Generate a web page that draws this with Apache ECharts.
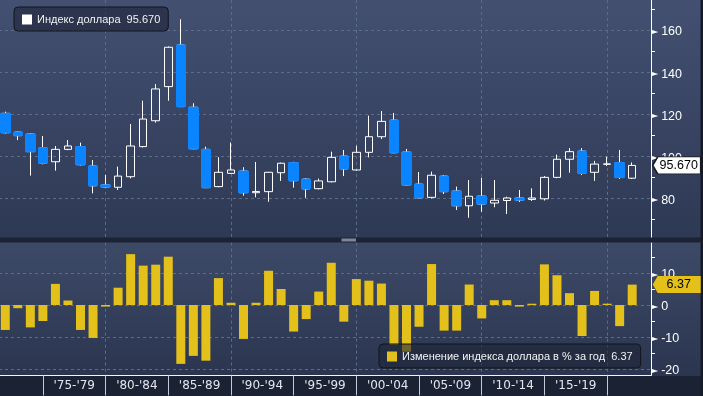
<!DOCTYPE html>
<html>
<head>
<meta charset="utf-8">
<title>Индекс доллара</title>
<style>
  html, body { margin: 0; padding: 0; background: #141a27; }
  #chart { width: 703px; height: 396px; }
</style>
</head>
<body>
<div id="chart"></div>
<script src="https://cdn.jsdelivr.net/npm/echarts@6/dist/echarts.min.js"></script>
<script>
// годовые свечи индекса доллара, 1971-2021
var years = [1971, 1972, 1973, 1974, 1975, 1976, 1977, 1978, 1979, 1980,
             1981, 1982, 1983, 1984, 1985, 1986, 1987, 1988, 1989, 1990,
             1991, 1992, 1993, 1994, 1995, 1996, 1997, 1998, 1999, 2000,
             2001, 2002, 2003, 2004, 2005, 2006, 2007, 2008, 2009, 2010,
             2011, 2012, 2013, 2014, 2015, 2016, 2017, 2018, 2019, 2020, 2021];

var open  = [120.4, 111.5, 110.6, 104.1, 97.4, 103.3, 104.6, 95.4, 86.4, 85.3,
             90.3, 104.6, 116.9, 133.1, 152.9, 123.3, 103.3, 85.6, 91.9, 93.0,
             82.7, 83.2, 92.2, 97.0, 89.2, 84.6, 87.9, 100.1, 93.5, 101.9,
             109.3, 117.2, 102.0, 86.8, 80.5, 90.6, 83.5, 76.5, 81.1, 77.8,
             79.0, 80.2, 79.5, 79.8, 90.0, 98.6, 102.5, 92.4, 96.2, 97.0, 89.6];
var high  = [121.2, 111.8, 111.0, 109.6, 104.9, 107.7, 106.5, 98.2, 91.1, 95.1,
             115.3, 126.4, 134.3, 152.2, 165.1, 125.2, 104.6, 99.6, 106.6, 94.8,
             97.3, 92.6, 97.0, 97.4, 89.7, 89.4, 102.2, 103.0, 105.0, 119.3,
             121.5, 120.6, 103.5, 92.5, 92.7, 91.1, 85.6, 88.7, 89.8, 88.7,
             80.8, 84.0, 84.8, 90.6, 100.8, 103.9, 103.9, 97.8, 99.8, 103.0, 97.1];
var low   = [110.8, 107.7, 90.8, 96.2, 93.2, 102.9, 95.6, 82.4, 85.0, 84.0,
             89.5, 104.2, 116.0, 126.4, 123.4, 103.3, 84.9, 85.3, 91.6, 81.3,
             80.5, 78.4, 88.3, 85.1, 80.3, 84.3, 87.6, 90.6, 93.2, 99.5,
             108.2, 101.4, 86.2, 80.0, 80.0, 82.1, 74.5, 70.8, 73.7, 75.8,
             72.6, 78.3, 78.8, 79.0, 89.6, 92.2, 91.1, 88.3, 95.4, 89.2, 89.2];
var close = [111.2, 109.8, 102.2, 96.7, 103.3, 104.9, 96.0, 86.0, 85.4, 90.6,
             104.9, 117.7, 132.0, 151.8, 123.6, 103.6, 85.1, 92.4, 93.5, 82.7,
             83.3, 92.4, 96.7, 88.4, 84.5, 88.3, 99.5, 94.0, 101.9, 109.3,
             116.6, 101.7, 86.4, 80.3, 91.0, 83.2, 76.5, 81.0, 77.3, 79.1,
             80.2, 79.2, 80.2, 90.0, 98.6, 102.2, 91.9, 96.3, 96.4, 89.9, 95.67];

// изменение за год, %
var change = [-7.8, -1.0, -7.0, -5.0, 6.6, 1.4, -7.8, -10.3, -0.5, 5.4,
              15.9, 12.3, 12.6, 15.1, -18.4, -15.9, -17.4, 8.4, 0.7, -10.6,
              0.7, 10.7, 5.0, -8.3, -4.4, 4.2, 13.2, -5.2, 8.1, 7.6,
              6.7, -12.5, -14.6, -6.8, 12.8, -8.0, -8.0, 6.4, -4.2, 1.5,
              1.5, -0.5, 0.4, 12.7, 9.3, 3.7, -9.7, 4.4, 0.4, -6.6, 6.37];

// подписи пятилеток на оси x
var periodLabels = ["'75-'79", "'80-'84", "'85-'89", "'90-'94", "'95-'99",
                    "'00-'04", "'05-'09", "'10-'14", "'15-'19"];

var NAME_INDEX = 'Индекс доллара';
var NAME_CHANGE = 'Изменение индекса доллара в % за год';
var BLUE = '#0b84ff', YELLOW = '#e4c01b', GRID = '#5c6d89';
var FONT = 'Liberation Sans';

// пустая категория справа — отступ до оси
var categories = years.map(String).concat(['']);
var lastClose = close[close.length - 1];
var lastChange = change[change.length - 1];

var candles = years.map(function (y, i) { return [open[i], close[i], low[i], high[i]]; });
// заливка падающих свечей поверх белого контура
var downBodies = years.map(function (y, i) {
  return close[i] < open[i] ? [open[i], close[i], close[i], open[i]] : '-';
});

function yearAt(i) { return i < years.length ? years[i] : null; }
function decadeLine(i) { var y = yearAt(i); return y !== null && y % 10 === 9; }
function periodTick(i) { var y = yearAt(i); return y !== null && y % 5 === 4; }
function periodIndex(y) { return Math.floor((y - 1975) / 5); }
function periodLabelAt(i) {
  var y = yearAt(i);
  return y !== null && y % 5 === 1 && periodIndex(y) >= 0 && periodIndex(y) < periodLabels.length;
}

function yLabel(v) { return '{t|►}{v|' + v + '}'; }
var yRich = {
  t: { fontSize: 8, color: '#fff', fontFamily: 'DejaVu Sans', padding: [4, 0, 0, 0] },
  v: { fontSize: 12.5, color: '#fff', fontFamily: FONT, padding: [4, 0, 0, 3] }
};

function xAxis(gridIndex, bottom) {
  return {
    type: 'category', gridIndex: gridIndex, data: categories, boundaryGap: true,
    axisLine: { show: bottom, onZero: false, lineStyle: { color: '#f2f4f7', width: 1 } },
    axisTick: { show: bottom, interval: periodTick, alignWithLabel: true, length: 20,
                lineStyle: { color: '#c3cad5' } },
    axisLabel: { show: bottom, interval: periodLabelAt, margin: 4, color: '#e2e6ec',
                 fontFamily: 'DejaVu Sans', fontSize: 12,
                 formatter: function (v) {
                   var p = periodLabels[periodIndex(Number(v))];
                   return p ? '{p|' + p + '}' : '';
                 },
                 rich: { p: { padding: [0, 0, 0, 12.5], color: '#e2e6ec', fontFamily: 'DejaVu Sans', fontSize: 12 } } },
    splitLine: { show: true, interval: decadeLine, alignWithLabel: true,
                 lineStyle: { color: GRID, type: [3, 3] } }
  };
}

function yAxis(gridIndex, min, max) {
  return {
    type: 'value', gridIndex: gridIndex, position: 'right', min: min, max: max,
    axisLine: { show: true, lineStyle: { color: '#fff', width: 1 } },
    axisTick: { show: false },
    minorTick: { show: true, splitNumber: 2, length: 4, lineStyle: { color: '#fff' } },
    axisLabel: { margin: 1, showMinLabel: false, showMaxLabel: false, formatter: yLabel, rich: yRich },
    splitLine: { show: true, showMinLine: false, showMaxLine: false,
                 lineStyle: { color: GRID, type: [3, 3] } }
  };
}

function legend(name, left, top, iconColor, valueText) {
  return {
    data: [{ name: name, icon: 'rect', itemStyle: { color: iconColor, borderWidth: 0 } }],
    left: left, top: top, padding: [7, 8, 6, 8],
    itemWidth: 10, itemHeight: 10, selectedMode: false,
    backgroundColor: 'rgba(30,37,55,0.6)', borderColor: '#10141c', borderWidth: 1, borderRadius: 4,
    textStyle: { color: '#f2f2f2', fontSize: 11, fontFamily: FONT },
    formatter: function (n) { return n + '  ' + valueText; }
  };
}

function tag(fill, border, text, coordY) {
  return {
    symbol: 'path://M0,8.5L5,0L48,0L48,17L5,17Z',
    symbolSize: [48, 17], symbolOffset: [32, 0], silent: true,
    itemStyle: { color: fill, borderColor: border, borderWidth: border ? 1 : 0 },
    label: { show: true, position: 'inside', offset: [2, 0], color: '#000',
             fontSize: 12.5, fontFamily: FONT, formatter: function () { return text; } },
    data: [{ coord: [years.length, coordY], value: coordY }]
  };
}

var chart = echarts.init(document.getElementById('chart'));
chart.setOption({
  animation: false,
  backgroundColor: '#141a27',
  textStyle: { fontFamily: FONT },
  graphic: { elements: [
    { type: 'rect', z: -10, silent: true, shape: { x: 0, y: 0, width: 700.5, height: 238 },
      style: { fill: new echarts.graphic.LinearGradient(0, 0, 0, 1, [
        { offset: 0, color: '#435071' }, { offset: 1, color: '#2e3954' }]) } },
    { type: 'rect', z: -10, silent: true, shape: { x: 0, y: 242, width: 700.5, height: 134 },
      style: { fill: new echarts.graphic.LinearGradient(0, 0, 0, 1, [
        { offset: 0, color: '#3d4a67' }, { offset: 1, color: '#2b3550' }]) } },
    { type: 'rect', z: -10, silent: true, shape: { x: 0, y: 376, width: 700.5, height: 20 },
      style: { fill: '#1b2233' } },
    { type: 'rect', z: 50, silent: true, shape: { x: 0, y: 237.5, width: 700.5, height: 5 },
      style: { fill: '#1c2335' } },
    { type: 'rect', z: 51, silent: true, shape: { x: 341.5, y: 238.5, width: 14.5, height: 3 },
      style: { fill: '#7d8797' } }
  ] },
  legend: [
    legend(NAME_INDEX, 14, 7, '#ffffff', lastClose.toFixed(3)),
    legend(NAME_CHANGE, 379, 344, YELLOW, lastChange.toFixed(2))
  ],
  grid: [
    { left: -1, right: 52, top: -12.1, height: 252.6, outerBoundsMode: 'none', containLabel: false },
    { left: -1, right: 52, top: 242.6, height: 132.8, outerBoundsMode: 'none', containLabel: false }
  ],
  xAxis: [xAxis(0, false), xAxis(1, true)],
  yAxis: [yAxis(0, 60, 180), yAxis(1, -22, 19.5)],
  series: [
    {
      name: NAME_INDEX, type: 'candlestick', xAxisIndex: 0, yAxisIndex: 0,
      data: candles, barWidth: 8,
      itemStyle: { color: 'rgba(0,0,0,0)', color0: BLUE, borderColor: '#ffffff',
                   borderColor0: '#ffffff', borderWidth: 1 },
      markPoint: tag('#ffffff', '#1a1a1a', lastClose.toFixed(3), lastClose)
    },
    {
      type: 'candlestick', xAxisIndex: 0, yAxisIndex: 0, silent: true,
      data: downBodies, barWidth: 10,
      itemStyle: { color: BLUE, color0: BLUE, borderColor: BLUE, borderColor0: BLUE, borderWidth: 1 }
    },
    {
      name: NAME_CHANGE, type: 'bar', xAxisIndex: 1, yAxisIndex: 1,
      data: change, barWidth: 9,
      itemStyle: { color: YELLOW },
      markPoint: tag(YELLOW, null, lastChange.toFixed(2), lastChange)
    }
  ]
});
</script>
</body>
</html>
